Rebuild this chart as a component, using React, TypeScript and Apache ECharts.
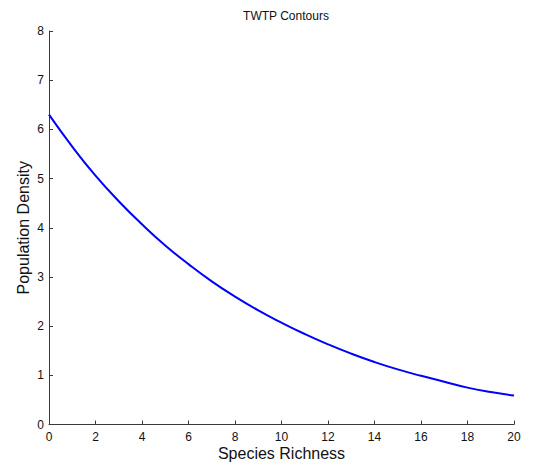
import React, { useEffect, useRef } from "react";
import * as echarts from "echarts";

const speciesRichness = [0, 1, 2, 3, 4, 5, 6, 7, 8, 9, 10, 11, 12, 13, 14, 15, 16, 17, 18, 19, 20];
const populationDensity = [6.3, 5.65, 5.06, 4.54, 4.07, 3.64, 3.26, 2.91, 2.6, 2.32, 2.07, 1.84, 1.63, 1.44, 1.27, 1.12, 0.99, 0.87, 0.75, 0.66, 0.59];

const titleText = "TWTP Contours";
const xName = "Species Richness";
const yName = "Population Density";

export default function App() {
  const ref = useRef<HTMLDivElement>(null);
  useEffect(() => {
    if (!ref.current) return;
    const chart = echarts.init(ref.current, null, { renderer: "svg" });
    const font = "'Liberation Sans', Arial, sans-serif";
    const axisColor = "#3a3a3a";
    chart.setOption({
      animation: false,
      backgroundColor: "#ffffff",
      title: {
        text: titleText,
        left: 281,
        textAlign: "center",
        top: 5,
        textStyle: { fontFamily: font, fontSize: 12, fontWeight: "normal", color: "#111" },
      },
      grid: { left: 49, right: 26, top: 31, bottom: 43.5, containLabel: false, outerBoundsMode: "none" },
      xAxis: {
        type: "value",
        min: 0,
        max: 20,
        interval: 2,
        name: xName,
        nameLocation: "middle",
        nameGap: 21,
        nameMoveOverlap: false,
        nameTextStyle: { fontFamily: font, fontSize: 16, color: "#111" },
        axisLine: { show: true, onZero: false, lineStyle: { color: axisColor, width: 1 } },
        axisTick: { show: true, inside: true, length: 4, lineStyle: { color: axisColor } },
        axisLabel: { fontFamily: font, fontSize: 12, color: "#111", margin: 6 },
        splitLine: { show: false },
      },
      yAxis: {
        type: "value",
        min: 0,
        max: 8,
        interval: 1,
        name: yName,
        nameLocation: "middle",
        nameGap: 18,
        nameMoveOverlap: false,
        nameTextStyle: { fontFamily: font, fontSize: 16, color: "#111" },
        axisLine: { show: true, onZero: false, lineStyle: { color: axisColor, width: 1 } },
        axisTick: { show: true, inside: true, length: 4, lineStyle: { color: axisColor } },
        axisLabel: { fontFamily: font, fontSize: 12, color: "#111", margin: 5 },
        splitLine: { show: false },
      },
      series: [
        {
          type: "line",
          data: speciesRichness.map((x, i) => [x, populationDensity[i]]),
          smooth: true,
          showSymbol: false,
          lineStyle: { color: "#0000ff", width: 2 },
          itemStyle: { color: "#0000ff" },
        },
      ],
    });
    return () => chart.dispose();
  }, []);
  return <div ref={ref} style={{ position: "absolute", left: 0, top: 0, width: 540, height: 468 }} />;
}
